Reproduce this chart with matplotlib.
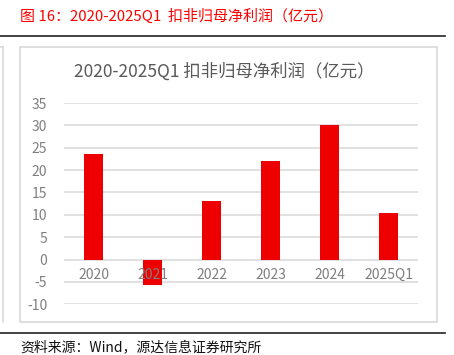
import numpy as np
import matplotlib.pyplot as plt
from matplotlib.patches import Rectangle
from matplotlib.lines import Line2D

plt.rcParams['font.family'] = ['Noto Sans CJK SC', 'DejaVu Sans']

# 扣非归母净利润（亿元）
years = ['2020', '2021', '2022', '2023', '2024', '2025Q1']
profit = [23.5, -5.6, 13.0, 22.0, 30.0, 10.3]
yticks = [-10, -5, 0, 5, 10, 15, 20, 25, 30, 35]

W, H = 454, 355
fig = plt.figure(figsize=(W / 100, H / 100), dpi=100)


def fx(px):
    return px / W


def fy(py):
    return 1 - py / H


# red caption + black rules
fig.text(fx(20), fy(16), '图 16：2020-2025Q1  扣非归母净利润（亿元）',
         color='#ff0000', fontsize=10.8, va='center', ha='left')
fig.add_artist(Line2D([0, fx(445)], [fy(36), fy(36)], color='#222222', lw=1.2))
fig.add_artist(Line2D([0, fx(445)], [fy(333), fy(333)], color='#222222', lw=1.2))
fig.text(fx(20), fy(354.5), '资料来源：Wind，源达信息证券研究所',
         color='#111111', fontsize=10, va='bottom', ha='left')

# chart frame
fig.add_artist(Rectangle((fx(20), fy(322)), fx(437) - fx(20), fy(47) - fy(322),
                         fill=False, edgecolor='#d9d9d9', lw=1.2))
fig.add_artist(Line2D([fx(3), fx(3)], [fy(47), fy(322)], color='#d9d9d9', lw=1.2))
fig.add_artist(Line2D([0, fx(3)], [fy(47), fy(47)], color='#d9d9d9', lw=1.2))

fig.text(fx(224), fy(72), '2020-2025Q1 扣非归母净利润（亿元）',
         color='#595959', fontsize=12.5, va='center', ha='center')

ax = fig.add_axes([fx(64), fy(304.3), fx(418) - fx(64), fy(103) - fy(304.3)])
x = np.arange(len(years))
ax.bar(x, profit, width=0.32, color='#ee0000', zorder=2)

ax.set_xlim(-0.5, len(years) - 0.5)
ax.set_ylim(-10, 35)
ax.set_yticks(yticks)
ax.set_yticklabels([str(v) for v in yticks])
ax.yaxis.grid(True, color='#d9d9d9', lw=1.1)
ax.set_axisbelow(True)
ax.tick_params(axis='y', length=0, pad=12, labelsize=10, labelcolor='#7f7f7f')
ax.set_xticks([])
for s in ax.spines.values():
    s.set_visible(False)

for xi, lab in zip(x, years):
    ax.annotate(lab, (xi, 0), xytext=(0, -11), textcoords='offset points',
                ha='center', va='center', fontsize=10, color='#7f7f7f', zorder=3)

plt.savefig('out.png', dpi=100)
